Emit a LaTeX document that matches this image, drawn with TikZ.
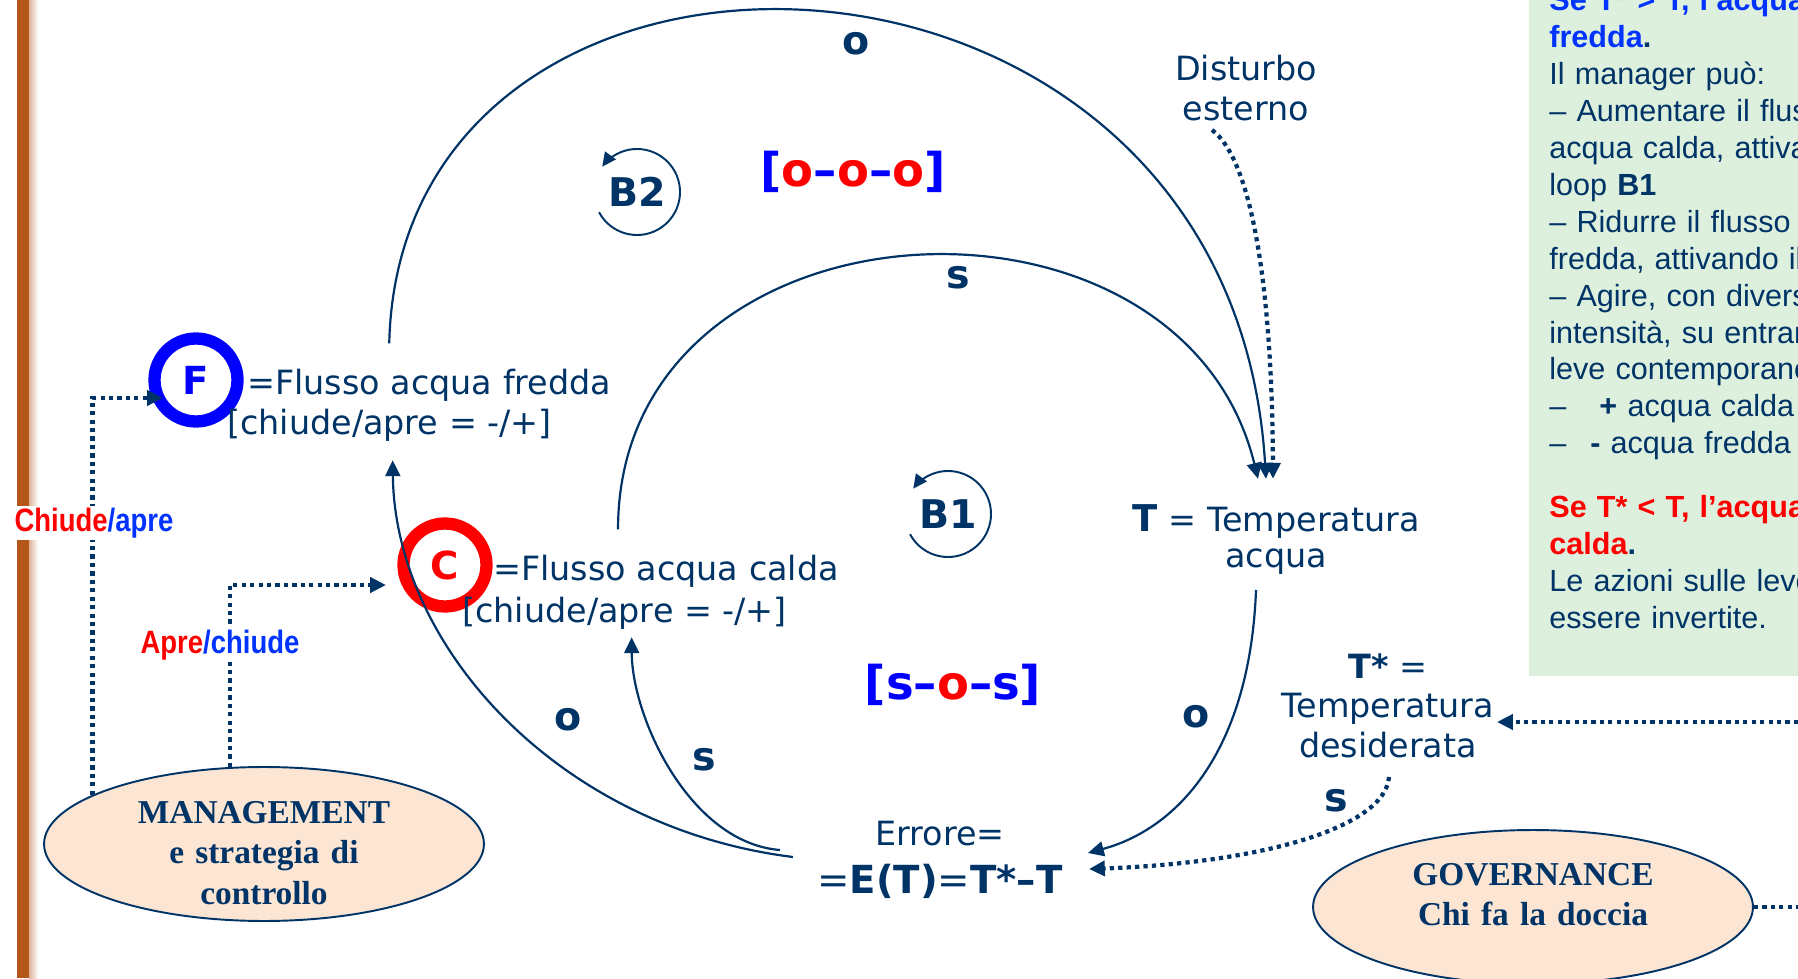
\documentclass[tikz,border=0pt]{standalone}
\usepackage{fontspec}
\setmainfont{DejaVu Sans}
\newfontfamily\notefont{Liberation Sans}
\newfontfamily\polefont{Liberation Serif}
\newfontfamily\switchfont[FakeStretch=0.85]{Liberation Sans}
\usetikzlibrary{arrows.meta,calc,shapes.geometric}

\begin{document}
\begin{tikzpicture}[x=0.02cm, y=0.02cm,
    txt/.style={text=navy, inner sep=0pt, font=\fontsize{19}{22.7}\selectfont},
    sign/.style={text=navy, inner sep=0pt, font=\bfseries\fontsize{22.5}{22.5}\selectfont},
    chain/.style={inner sep=0pt, font=\bfseries\fontsize{26.5}{26.5}\selectfont},
    loopname/.style={text=navy, inner sep=0pt, font=\bfseries\fontsize{22.5}{22.5}\selectfont},
    ring/.style={circle, line width=7pt, minimum size=1.66cm, inner sep=0pt,
        font=\bfseries\fontsize{22}{22}\selectfont},
    pole/.style={ellipse, draw=navy, line width=1.1pt, fill=peach,
        minimum width=8.8cm, minimum height=3.08cm},
    poletext/.style={text=navy, inner sep=0pt, text width=8cm, align=center,
        font=\polefont\bfseries\fontsize{19}{23.2}\selectfont},
    switch/.style={fill=white, inner sep=1pt,
        font=\switchfont\bfseries\fontsize{18.4}{18.4}\selectfont},
    notes/.style={text=navy, inner sep=0pt, text width=10cm, align=left,
        font=\notefont\fontsize{17.4}{21}\selectfont},
    flow/.style={draw=navy, line width=1.25pt, -{Triangle[length=9pt,width=8.5pt]}},
    ctrl/.style={draw=navy, line width=2.4pt, dash pattern=on 2.4pt off 2.4pt,
        -{Triangle[length=9pt,width=8.5pt]}},
    loop/.style={draw=navy, line width=1.1pt, -{Triangle[length=8pt,width=7.5pt]}}]

    \definecolor{navy}{HTML}{003366}
    \definecolor{fblue}{HTML}{0000FF}
    \definecolor{cred}{HTML}{FF0000}
    \definecolor{noteblue}{HTML}{0033FF}
    \definecolor{notegreen}{HTML}{DDF0DD}
    \definecolor{peach}{HTML}{FDE5D4}
    \definecolor{barbrown}{HTML}{B5571B}

    \useasboundingbox (0,0) rectangle (1798,978);

    % Left bar
    \fill[barbrown] (17,0) rectangle (29,978);
    \shade[left color=barbrown!45, right color=white] (29,0) rectangle (38,978);

    % Notes on the right
    \fill[notegreen] (1529,302) rectangle (1798,978);
    \begin{scope}
        \clip (1529,302) rectangle (1798,978);
        \node[notes, anchor=base west] (notes) at (1549,967) {%
            {\color{noteblue}\bfseries Se T* > T, l’acqua}\\
            {\color{noteblue}\bfseries fredda}\textbf{.}\\
            Il manager può:\\
            – Aumentare il flusso\\
            acqua calda, attivando\\
            loop \textbf{B1}\\
            – Ridurre il flusso\\
            fredda, attivando il\\
            – Agire, con diversa\\
            intensità, su entrambe\\
            leve contemporaneamente\\
            –\hspace{0.75em} \textbf{+} acqua calda\\
            –\hspace{0.45em} \textbf{-} acqua fredda\\[15.5pt]
            {\color{cred}\bfseries Se T* < T, l’acqua}\\
            {\color{cred}\bfseries calda}\textbf{.}\\
            Le azioni sulle leve\\
            essere invertite.};
    \end{scope}

    % Flows
    \node[ring, draw=fblue, text=fblue] (Fcirc) at (196,598) {F};
    \node[txt, anchor=base west] (Ftxt) at (247,583) {=Flusso acqua fredda};
    \node[txt, anchor=base west] (Fsub) at (227,543) {[chiude/apre = -/+]};

    \node[ring, draw=cred, text=cred] (Ccirc) at (445,413) {C};
    \node[txt, anchor=base west] (Ctxt) at (493,398) {=Flusso acqua calda};
    \node[txt, anchor=base west] (Csub) at (462,356) {[chiude/apre = -/+]};

    % Temperatures and error
    \node[txt, text width=6.4cm, align=center, anchor=base, font=\fontsize{19}{21}\selectfont]
        (T) at (1276,447) {{\bfseries\fontsize{21}{21}\selectfont T} = Temperatura\\acqua};
    \node[txt, text width=6cm, align=center, anchor=base] (Tstar) at (1388,300)
        {\textbf{T*} =\\Temperatura\\desiderata};
    \node[txt, text width=6cm, align=center, anchor=base] (err) at (940,133)
        {Errore=\\[5pt]{\fontsize{22}{25}\selectfont =\textbf{E(T)}=\textbf{T*–T}}};
    \node[txt, text width=5cm, align=center, anchor=base] (dist) at (1246,897)
        {Disturbo\\esterno};

    % Management and governance
    \node[pole] (mgmt) at (264,134) {};
    \node[poletext, anchor=base] (mgmttext) at (264,155) {MANAGEMENT\\e strategia di\\controllo};
    \node[pole] (gov) at (1533,71) {};
    \node[poletext, anchor=base] (govtext) at (1533,93) {GOVERNANCE\\Chi fa la doccia};

    % Loop names
    \node[loopname] (B2) at (637,786) {B2};
    \draw[loop] (B2.center) ++(208:43) arc (208:504:43);
    \node[loopname] (B1) at (948,464) {B1};
    \draw[loop] (B1.center) ++(208:43) arc (208:504:43);

    \node[chain] (ooo) at (853,806) {\textcolor{fblue}{[}\textcolor{cred}{o}\textcolor{fblue}{–}\textcolor{cred}{o}\textcolor{fblue}{–}\textcolor{cred}{o}\textcolor{fblue}{]}};
    \node[chain] (sos) at (953,293) {\textcolor{fblue}{[s–}\textcolor{cred}{o}\textcolor{fblue}{–s]}};

    % Link signs
    \node[sign] (oB2) at (856,934) {o};
    \node[sign] (sB1) at (958,700) {s};
    \node[sign] (oTE) at (1196,261) {o};
    \node[sign] (sTE) at (1336,177) {s};
    \node[sign] (oEF) at (568,258) {o};
    \node[sign] (sEC) at (704,218) {s};

    % Causal links
    \draw[flow] ($(Ftxt.north)+(-40,26)$) .. controls (400,1108) and (1230,1088) .. ($(T.north)+(-10,25)$);
    \draw[flow] ($(Ctxt.north)+(-48,25)$) .. controls (618,788) and (1180,818) .. ($(T.north)+(-18,25)$);
    \draw[ctrl] ($(dist.base)+(-34,-49)$) .. controls (1250,820) and (1272,700) .. ($(T.north)+(-3,25)$);
    \draw[flow] ($(T.base)+(-20,-59)$) .. controls (1250,230) and (1180,150) .. ($(err.base)+(148,-8)$);
    \draw[ctrl] ($(Tstar.base)+(1,-99)$) .. controls (1385,150) and (1260,115) .. ($(err.base)+(149,-24)$);
    \draw[flow] ($(err.base)+(-160,-5)$) .. controls (690,135) and (632,260) .. ($(Csub.south)+(7,-8)$);
    \draw[flow] ($(err.base)+(-147,-12)$) .. controls (560,150) and (395,330) .. ($(Fsub.south)+(3,-18)$);

    % Control actions
    \draw[ctrl] (mgmt.164) |- ($(Fcirc.center)+(-33,-18)$);
    \draw[ctrl] (mgmt.114) |- ($(Ccirc.center)+(-59,-20)$);
    \node[switch] (fswitch) at (94,455) {\textcolor{cred}{Chiude}\textcolor{noteblue}{/apre}};
    \node[switch] (cswitch) at (220,333) {\textcolor{cred}{Apre}\textcolor{noteblue}{/chiude}};

    \coordinate (govout) at (1798,71);
    \coordinate (tin) at (1798,256);
    \draw[ctrl, -] (gov.east) -- (govout);
    \draw[ctrl] (tin) -- ($(Tstar.base)+(109,-44)$);

\end{tikzpicture}
\end{document}
